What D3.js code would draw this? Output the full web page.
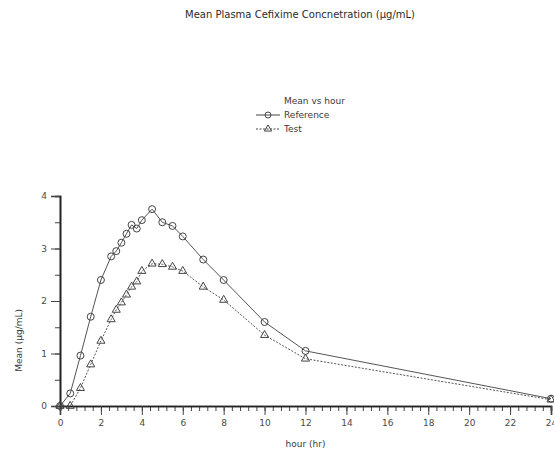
<!DOCTYPE html>
<html>
<head>
<meta charset="utf-8">
<script src="https://cdn.jsdelivr.net/npm/d3@7"></script>
<style>
  body { margin: 0; background: #fff; }
  svg text { font-family: "DejaVu Sans", sans-serif; fill: #3a3a3a; }
</style>
</head>
<body>
<svg width="554" height="453"></svg>
<script>
var hours = [0, 0.5, 1, 1.5, 2, 2.5, 2.75, 3, 3.25, 3.5, 3.75, 4, 4.5, 5, 5.5, 6, 7, 8, 10, 12, 24];
var reference = [0, 0.24, 0.96, 1.70, 2.40, 2.85, 2.95, 3.11, 3.28, 3.45, 3.38, 3.54, 3.75, 3.50, 3.43, 3.23, 2.79, 2.40, 1.60, 1.05, 0.14];
var test = [0, 0, 0.34, 0.79, 1.24, 1.65, 1.83, 1.97, 2.12, 2.27, 2.37, 2.57, 2.71, 2.70, 2.65, 2.57, 2.27, 2.02, 1.35, 0.90, 0.12];
var xTicks = [0, 2, 4, 6, 8, 10, 12, 14, 16, 18, 20, 22, 24];
var yTicks = [0, 1, 2, 3, 4];

var svg = d3.select("svg"),
    margin = {top: 196, right: 3, bottom: 47, left: 60},
    width = +svg.attr("width") - margin.left - margin.right,
    height = +svg.attr("height") - margin.top - margin.bottom;

var x = d3.scaleLinear().domain([0, 24]).range([0, width]),
    y = d3.scaleLinear().domain([0, 4]).range([height, 0]);

var g = svg.append("g")
    .attr("transform", "translate(" + margin.left + "," + margin.top + ")");

// title
svg.append("text")
    .attr("x", 300)
    .attr("y", 18)
    .attr("text-anchor", "middle")
    .style("font-size", "10px")
    .style("fill", "#2a2a2a")
    .text("Mean Plasma Cefixime Concnetration (µg/mL)");

// minor ticks
g.append("g")
    .attr("class", "axis minor")
    .attr("transform", "translate(0," + height + ")")
    .call(d3.axisBottom(x).tickValues(d3.range(0, 24.01, 0.4)).tickSize(5).tickFormat(""));
g.append("g")
    .attr("class", "axis minor")
    .call(d3.axisLeft(y).tickValues(d3.range(0, 4.01, 0.5)).tickSize(5).tickFormat(""));

// major ticks
g.append("g")
    .attr("class", "axis axis--x")
    .attr("transform", "translate(0," + height + ")")
    .call(d3.axisBottom(x).tickValues(xTicks).tickSize(9).tickPadding(5).tickFormat(d3.format("d")));
g.append("g")
    .attr("class", "axis axis--y")
    .call(d3.axisLeft(y).tickValues(yTicks).tickSize(9).tickPadding(4).tickFormat(d3.format("d")));

g.selectAll(".axis path").attr("stroke", "#222").attr("stroke-width", 1.6);
g.selectAll(".axis line").attr("stroke", "#444");
g.selectAll(".axis text").style("font-size", "9px").style("fill", "#4a4a4a");

// axis titles
g.append("text")
    .attr("x", width / 2)
    .attr("y", height + 41)
    .attr("text-anchor", "middle")
    .style("font-size", "9px")
    .text("hour (hr)");
g.append("text")
    .attr("transform", "rotate(-90)")
    .attr("x", -(y(1.25)))
    .attr("y", -38)
    .attr("text-anchor", "middle")
    .style("font-size", "9px")
    .text("Mean (µg/mL)");

var line = d3.line()
    .x(function(d) { return x(d[0]); })
    .y(function(d) { return y(d[1]); });

var refData = d3.zip(hours, reference),
    testData = d3.zip(hours, test);

g.append("path")
    .datum(testData)
    .attr("fill", "none")
    .attr("stroke", "#555")
    .attr("stroke-width", 1)
    .attr("stroke-dasharray", "2,1.5")
    .attr("d", line);

g.append("path")
    .datum(refData)
    .attr("fill", "none")
    .attr("stroke", "#555")
    .attr("stroke-width", 1)
    .attr("d", line);

var tri = d3.symbol().type(d3.symbolTriangle).size(28);

g.selectAll(".tri")
    .data(testData)
  .enter().append("path")
    .attr("class", "tri")
    .attr("transform", function(d) { return "translate(" + x(d[0]) + "," + y(d[1]) + ")"; })
    .attr("d", tri)
    .attr("fill", "none")
    .attr("stroke", "#444")
    .attr("stroke-width", 1);

g.selectAll(".dot")
    .data(refData)
  .enter().append("circle")
    .attr("class", "dot")
    .attr("cx", function(d) { return x(d[0]); })
    .attr("cy", function(d) { return y(d[1]); })
    .attr("r", 3.5)
    .attr("fill", "none")
    .attr("stroke", "#444")
    .attr("stroke-width", 1);

// legend
var legend = svg.append("g").attr("transform", "translate(256,0)");
legend.append("text").attr("x", 28).attr("y", 104).style("font-size", "9px").text("Mean vs hour");

legend.append("line").attr("x1", 0).attr("x2", 24).attr("y1", 115).attr("y2", 115)
    .attr("stroke", "#444");
legend.append("circle").attr("cx", 12).attr("cy", 115).attr("r", 3)
    .attr("fill", "none").attr("stroke", "#444");
legend.append("text").attr("x", 28).attr("y", 118).style("font-size", "9px").text("Reference");

legend.append("line").attr("x1", 0).attr("x2", 24).attr("y1", 129).attr("y2", 129)
    .attr("stroke", "#444").attr("stroke-dasharray", "2,1.5");
legend.append("path").attr("transform", "translate(12,129)").attr("d", d3.symbol().type(d3.symbolTriangle).size(22))
    .attr("fill", "none").attr("stroke", "#444");
legend.append("text").attr("x", 28).attr("y", 132).style("font-size", "9px").text("Test");
</script>
</body>
</html>
